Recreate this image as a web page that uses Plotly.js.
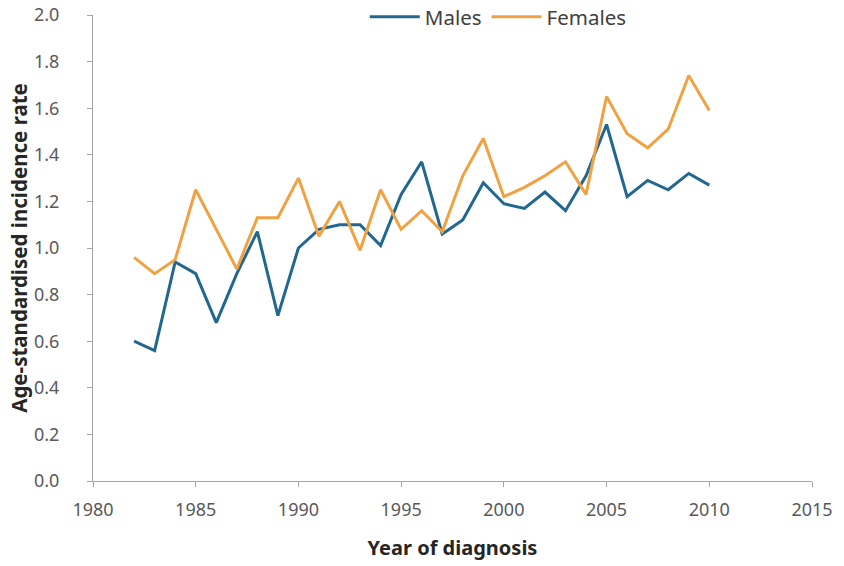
<!DOCTYPE html>
<html>
<head>
<meta charset="utf-8">
<script src="https://cdn.plot.ly/plotly-3.0.1.min.js"></script>
<style>html,body{margin:0;padding:0;background:#fff}#chart{width:844px;height:566px}</style>
</head>
<body>
<div id="chart"></div>
<script>
var years = [1982,1983,1984,1985,1986,1987,1988,1989,1990,1991,1992,1993,1994,1995,1996,1997,1998,1999,2000,2001,2002,2003,2004,2005,2006,2007,2008,2009,2010];
var males = [0.60,0.56,0.94,0.89,0.68,0.89,1.07,0.71,1.00,1.08,1.10,1.10,1.01,1.23,1.37,1.06,1.12,1.28,1.19,1.17,1.24,1.16,1.31,1.53,1.22,1.29,1.25,1.32,1.27];
var females = [0.96,0.89,0.95,1.25,1.08,0.91,1.13,1.13,1.30,1.05,1.20,0.99,1.25,1.08,1.16,1.07,1.31,1.47,1.22,1.26,1.31,1.37,1.23,1.65,1.49,1.43,1.51,1.74,1.59];
var xTicks = [1980,1985,1990,1995,2000,2005,2010,2015];
var yTicks = [0,0.2,0.4,0.6,0.8,1.0,1.2,1.4,1.6,1.8,2.0];

var font = "'Noto Sans', 'Open Sans', sans-serif";
var traces = [
  {x: years, y: males, name: 'Males', type: 'scatter', mode: 'lines',
   line: {color: '#21678f', width: 3}},
  {x: years, y: females, name: 'Females', type: 'scatter', mode: 'lines',
   line: {color: '#f0a243', width: 3}}
];
var layout = {
  width: 844, height: 566,
  margin: {l: 93, r: 32, t: 15, b: 85, autoexpand: false},
  paper_bgcolor: '#fff', plot_bgcolor: '#fff',
  font: {family: font, size: 16, color: '#595959'},
  showlegend: true,
  legend: {orientation: 'h', x: 0.378, xanchor: 'left', y: 0.996, yanchor: 'middle',
           font: {family: font, size: 20.5, color: '#404040'}, itemwidth: 50, tracegroupgap: 0,
           bgcolor: 'rgba(0,0,0,0)'},
  xaxis: {
    range: [1980, 2015], tickvals: xTicks, ticktext: xTicks.map(String),
    showgrid: false, zeroline: false, showline: true, linecolor: '#a6a6a6', linewidth: 1,
    ticks: 'outside', ticklen: 5, tickcolor: '#a6a6a6', ticklabelstandoff: 7,
    tickfont: {family: font, size: 18, color: '#595959'},
    title: {text: '<b>Year of diagnosis</b>', standoff: 21, font: {family: font, size: 20, color: '#262626'}}
  },
  yaxis: {
    range: [0, 2.0], tickvals: yTicks, ticktext: yTicks.map(function(v){return v.toFixed(1);}),
    showgrid: false, zeroline: false, showline: true, linecolor: '#a6a6a6', linewidth: 1,
    ticks: 'outside', ticklen: 5, tickcolor: '#a6a6a6', ticklabelstandoff: 24,
    tickfont: {family: font, size: 18, color: '#595959'},
    title: {text: '<b>Age-standardised incidence rate</b>', standoff: 0, font: {family: font, size: 20.5, color: '#262626'}}
  }
};
Plotly.newPlot('chart', traces, layout, {displayModeBar: false, staticPlot: true});
</script>
</body>
</html>
